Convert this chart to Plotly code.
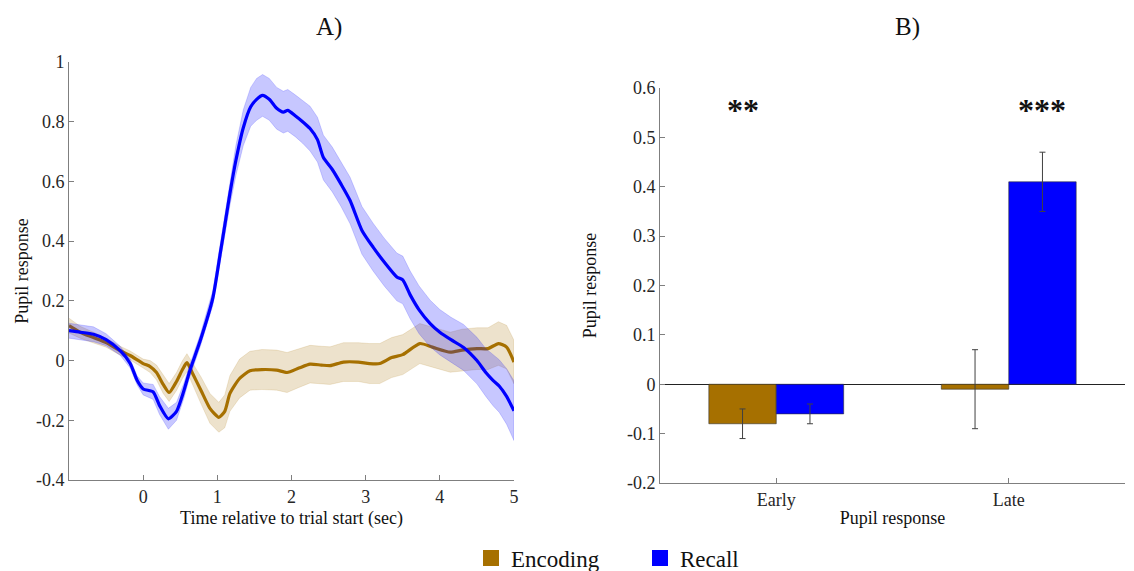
import plotly.graph_objects as go

# ---------------- Data ----------------
# Panel A: pupil time courses
recall_t = [-1, -0.85, -0.67, -0.5, -0.31, -0.175, -0.08, 0, 0.135, 0.22,
            0.34, 0.45, 0.55, 0.63, 0.77, 0.94, 1.04, 1.105, 1.17, 1.25,
            1.35, 1.45, 1.53, 1.61, 1.7, 1.8, 1.89, 1.95, 2.05, 2.15,
            2.25, 2.35, 2.43, 2.55, 2.67, 2.79, 2.95, 3.1, 3.25, 3.42,
            3.5, 3.6, 3.72, 3.87, 4.0, 4.15, 4.32, 4.5, 4.62, 4.72,
            4.8, 4.9, 5.0]
recall_mean = [0.1, 0.095, 0.088, 0.07, 0.033, -0.01, -0.067, -0.095, -0.105, -0.15,
               -0.195, -0.17, -0.10, -0.033, 0.067, 0.21, 0.36, 0.46, 0.56, 0.67,
               0.78, 0.85, 0.875, 0.888, 0.875, 0.845, 0.832, 0.838, 0.82, 0.80,
               0.777, 0.74, 0.68, 0.64, 0.59, 0.536, 0.436, 0.38, 0.33, 0.28,
               0.27, 0.22, 0.17, 0.124, 0.095, 0.07, 0.044, 0.0, -0.04, -0.067,
               -0.085, -0.12, -0.168]
recall_sem = [0.025, 0.025, 0.025, 0.02, 0.015, 0.015, 0.015, 0.02, 0.025, 0.03,
              0.035, 0.03, 0.025, 0.02, 0.02, 0.025, 0.03, 0.035, 0.04, 0.05,
              0.06, 0.065, 0.07, 0.07, 0.07, 0.07, 0.07, 0.07, 0.07, 0.072,
              0.075, 0.075, 0.075, 0.075, 0.075, 0.078, 0.08, 0.08, 0.08, 0.08,
              0.08, 0.08, 0.08, 0.078, 0.076, 0.075, 0.077, 0.078, 0.08, 0.085,
              0.088, 0.093, 0.1]

encoding_t = [-1, -0.85, -0.67, -0.5, -0.31, -0.175, 0, 0.094, 0.18, 0.27,
              0.35, 0.45, 0.53, 0.59, 0.67, 0.78, 0.9, 1.02, 1.1, 1.17,
              1.3, 1.44, 1.6, 1.8, 1.94, 2.1, 2.25, 2.4, 2.52, 2.7,
              2.9, 3.05, 3.19, 3.35, 3.5, 3.73, 3.9, 4.14, 4.3, 4.5,
              4.65, 4.79, 4.9, 5.0]
encoding_mean = [0.117, 0.095, 0.077, 0.06, 0.033, 0.017, -0.01, -0.02, -0.04, -0.08,
                 -0.107, -0.07, -0.03, -0.007, -0.045, -0.1, -0.16, -0.19, -0.17, -0.11,
                 -0.06, -0.034, -0.03, -0.032, -0.04, -0.025, -0.012, -0.015, -0.017, -0.005,
                 -0.005, -0.01, -0.01, 0.01, 0.02, 0.057, 0.045, 0.028, 0.035, 0.04,
                 0.04, 0.057, 0.045, -0.005]
encoding_sem = [0.025, 0.02, 0.018, 0.015, 0.015, 0.015, 0.015, 0.02, 0.025, 0.03,
                0.03, 0.03, 0.03, 0.03, 0.035, 0.045, 0.05, 0.05, 0.055, 0.06,
                0.065, 0.065, 0.067, 0.067, 0.067, 0.065, 0.063, 0.063, 0.063, 0.065,
                0.065, 0.067, 0.067, 0.067, 0.067, 0.067, 0.067, 0.067, 0.07, 0.07,
                0.07, 0.073, 0.073, 0.073]

# Panel B: bar chart
bar_categories = ["Early", "Late"]
bar_positions = [1, 2]
encoding_bar = [-0.08, -0.01]
encoding_err = [0.03, 0.08]
recall_bar = [-0.06, 0.41]
recall_err = [0.02, 0.06]
significance = ["**", "***"]

axA_yticks = [-0.4, -0.2, 0, 0.2, 0.4, 0.6, 0.8, 1]
axA_yticktext = ["-0.4", "-0.2", "0", "0.2", "0.4", "0.6", "0.8", "1"]
axA_xticks = [0, 1, 2, 3, 4, 5]
axB_yticks = [-0.2, -0.1, 0, 0.1, 0.2, 0.3, 0.4, 0.5, 0.6]
axB_yticktext = ["-0.2", "-0.1", "0", "0.1", "0.2", "0.3", "0.4", "0.5", "0.6"]

# ---------------- Style ----------------
BROWN = "#A67000"
BLUE = "#0000FF"
FONT = "Liberation Serif"
W, H = 1134, 571
OFF = 8  # page body offset in pixels


def px_x(X):
    return (X - OFF) / W


def px_y(Y):
    return 1 - (Y - OFF) / H


fig = go.Figure()


def band(t, m, s, fill, edge):
    upper = [a + b for a, b in zip(m, s)]
    lower = [a - b for a, b in zip(m, s)]
    fig.add_trace(go.Scatter(
        x=t + t[::-1], y=upper + lower[::-1], fill="toself", fillcolor=fill,
        line=dict(color=edge, width=0.6), mode="lines", showlegend=False,
        hoverinfo="skip", xaxis="x", yaxis="y"))


band(encoding_t, encoding_mean, encoding_sem, "rgba(166,112,0,0.2)", "rgba(166,112,0,0.25)")
fig.add_trace(go.Scatter(x=encoding_t, y=encoding_mean, mode="lines",
                         line=dict(color=BROWN, width=3.2, shape="spline", smoothing=0.6),
                         showlegend=False, xaxis="x", yaxis="y"))
band(recall_t, recall_mean, recall_sem, "rgba(0,0,255,0.22)", "rgba(0,0,255,0.28)")
fig.add_trace(go.Scatter(x=recall_t, y=recall_mean, mode="lines",
                         line=dict(color=BLUE, width=3.2, shape="spline", smoothing=0.6),
                         showlegend=False, xaxis="x", yaxis="y"))

err_style = dict(type="data", thickness=1, width=3, color="#404040")
fig.add_trace(go.Bar(x=bar_positions, y=encoding_bar, name="Encoding", showlegend=False,
                     marker=dict(color=BROWN, line=dict(color="#333333", width=0.6)),
                     error_y=dict(array=encoding_err, **err_style),
                     xaxis="x2", yaxis="y2"))
fig.add_trace(go.Bar(x=bar_positions, y=recall_bar, name="Recall", showlegend=False,
                     marker=dict(color=BLUE, line=dict(color="#333333", width=0.6)),
                     error_y=dict(array=recall_err, **err_style),
                     xaxis="x2", yaxis="y2"))

# legend entries with large square swatches
for nm, col in [("Encoding", BROWN), ("Recall", BLUE)]:
    fig.add_trace(go.Scatter(x=[None], y=[None], mode="markers", name=nm,
                             marker=dict(symbol="square", size=20, color=col),
                             xaxis="x2", yaxis="y2"))

bargap = 0.42
half_bar = (1 - bargap) / 4
star_x = [bar_positions[0] - half_bar, bar_positions[1] + half_bar]
annotations = []
for sx, txt in zip(star_x, significance):
    annotations.append(dict(x=sx, y=0.556, xref="x2", yref="y2", text="<b>" + txt + "</b>",
                            showarrow=False,
                            font=dict(family=FONT, size=32, color="#111111"),
                            xanchor="center", yanchor="middle"))
annotations.append(dict(x=px_x(329), y=px_y(27), xref="paper", yref="paper", text="A)",
                        xanchor="center", yanchor="middle",
                        showarrow=False, font=dict(family=FONT, size=25, color="#111111")))
annotations.append(dict(x=px_x(907), y=px_y(27), xref="paper", yref="paper", text="B)",
                        xanchor="center", yanchor="middle",
                        showarrow=False, font=dict(family=FONT, size=25, color="#111111")))

axis_common = dict(showline=True, linecolor="#7f7f7f", linewidth=1, ticks="inside",
                   ticklen=5, tickcolor="#7f7f7f", showgrid=False, zeroline=False,
                   automargin=False, tickfont=dict(family=FONT, size=18, color="#262626"),
                   title_font=dict(family=FONT, size=18, color="#111111"))

fig.update_layout(
    width=W, height=H, margin=dict(l=0, r=0, t=0, b=0, autoexpand=False),
    paper_bgcolor="white", plot_bgcolor="white",
    barmode="group", bargap=bargap, bargroupgap=0,
    font=dict(family=FONT),
    xaxis=dict(domain=[px_x(69), px_x(514)], range=[-1, 5], tickvals=axA_xticks,
               title=dict(text="Time relative to trial start (sec)", standoff=5),
               anchor="y", **axis_common),
    yaxis=dict(domain=[px_y(480), px_y(62)], range=[-0.4, 1], tickvals=axA_yticks,
               ticktext=axA_yticktext, title=dict(text="Pupil response", standoff=2),
               anchor="x", **axis_common),
    xaxis2=dict(domain=[px_x(660), px_x(1125)], range=[0.5, 2.5], tickvals=bar_positions,
                ticktext=bar_categories, title=dict(text="Pupil response", standoff=2),
                anchor="y2", **axis_common),
    yaxis2=dict(domain=[px_y(483), px_y(88)], range=[-0.2, 0.6], tickvals=axB_yticks,
                ticktext=axB_yticktext, title=dict(text="Pupil response", standoff=25),
                anchor="x2", **axis_common),
    legend=dict(orientation="h", x=px_x(471), xanchor="left", y=px_y(558), yanchor="middle",
                font=dict(family=FONT, size=23, color="#111111"), itemsizing="trace",
                entrywidth=124, entrywidthmode="pixels", bgcolor="rgba(0,0,0,0)"),
    annotations=annotations,
    showlegend=True,
)
fig.layout.yaxis2.zeroline = True
fig.layout.yaxis2.zerolinecolor = "#222222"
fig.layout.yaxis2.zerolinewidth = 1

fig.write_html("out.html")
